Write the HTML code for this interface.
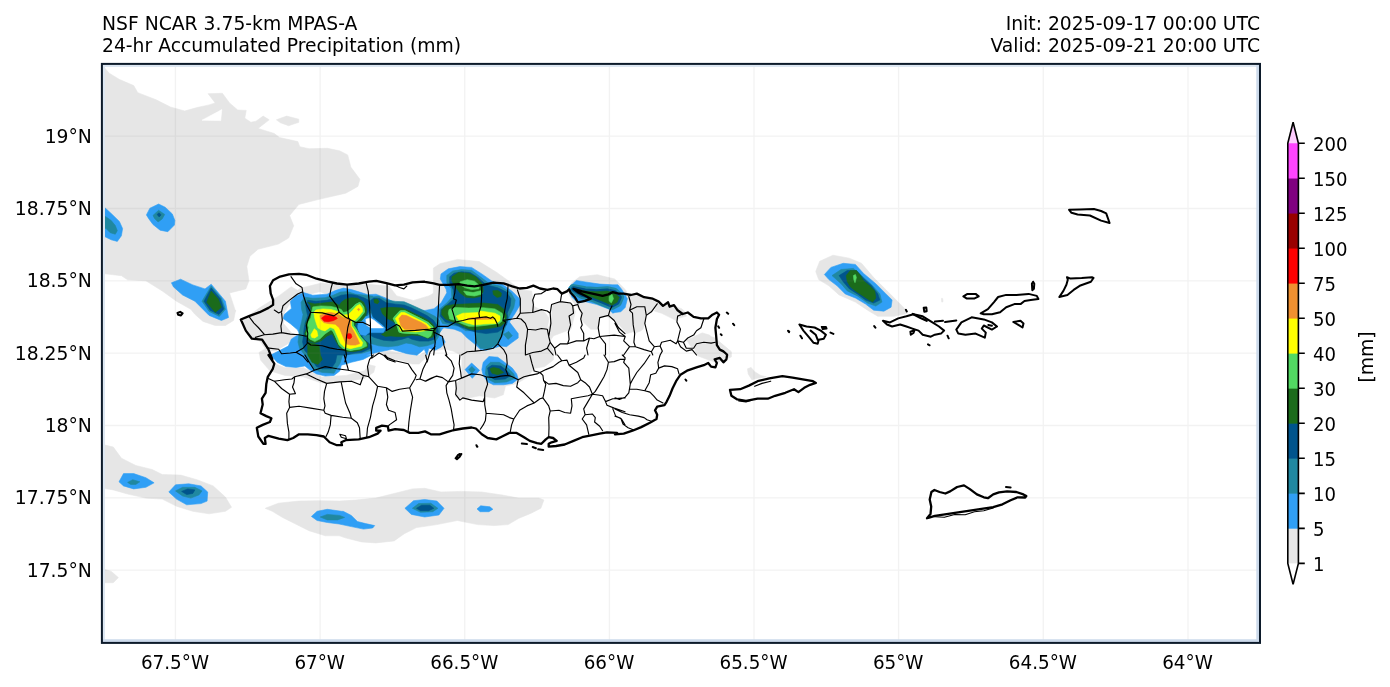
<!DOCTYPE html>
<html><head><meta charset="utf-8"><title>24-hr Accumulated Precipitation</title>
<style>
html,body{margin:0;padding:0;background:#fff;}
body{width:1390px;height:687px;overflow:hidden;font-family:"DejaVu Sans","Liberation Sans",sans-serif;}
svg{display:block}
text{font-family:"DejaVu Sans","Liberation Sans",sans-serif;fill:#000}
.t{font-size:18.75px}
.l{font-size:18.75px}
</style></head><body>
<svg width="1390" height="687" viewBox="0 0 1390 687">
<rect width="1390" height="687" fill="#fff"/>
<defs><clipPath id="ax"><rect x="101.9" y="63.9" width="1158.1" height="579.0"/></clipPath></defs>
<g clip-path="url(#ax)" id="map">
<path d="M90.9 63.2 103.2 66.2 109.3 73.3 119.5 79.5 133.7 85.6 137.8 92.7 156.1 99.8 170.4 107.0 184.7 111.0 196.9 107.6 209.1 104.9 215.2 102.9 208.1 93.7 222.4 93.3 229.5 102.9 237.7 110.0 246.2 110.4 244.8 118.2 250.9 122.3 256.0 121.2 263.1 116.1 269.2 119.8 258.0 128.4 274.3 133.5 279.4 137.5 297.8 141.6 299.8 146.7 309.0 148.7 327.3 148.3 339.5 150.8 347.7 154.9 350.8 167.1 359.9 179.3 357.9 186.4 345.7 193.2 319.2 199.3 298.8 204.4 289.6 215.6 293.7 225.8 288.6 238.0 278.4 244.1 258.0 249.2 249.9 256.3 246.8 266.5 248.9 280.8 245.8 288.9 229.5 293.0 235.6 311.4 235.6 310.2 233.6 320.4 225.4 325.5 215.2 325.5 203.0 321.4 194.9 314.3 190.8 309.3 176.5 301.2 162.3 291.0 145.9 280.8 127.6 279.8 121.5 275.7 103.2 273.6 90.9 273.6ZM276.4 119.8 286.6 116.1 298.8 119.2 298.8 122.3 288.6 125.7 280.4 122.7ZM815.7 271.5 819.7 261.3 833.0 255.2 849.3 258.2 861.5 263.3 873.7 277.6 886.0 289.8 896.2 300.0 904.3 308.2 907.4 313.3 894.1 316.3 877.8 316.3 867.6 310.2 855.4 302.1 839.1 294.9 828.9 285.8 818.7 279.6ZM941.4 298.4 942.6 298.4 943.0 301.7 941.8 302.1ZM90.9 443.1 101.1 444.1 113.3 447.1 121.5 458.3 135.8 465.5 152.1 469.5 162.3 474.6 180.6 475.1 196.9 479.7 213.2 485.9 225.4 497.1 231.5 507.3 225.4 511.3 209.1 513.8 192.8 511.3 176.5 506.2 162.3 499.1 145.9 498.1 127.6 494.0 113.3 489.9 101.1 487.9 90.9 487.9ZM265.2 508.3 278.4 503.2 298.8 501.1 319.2 500.7 339.5 501.1 355.4 500.1 375.8 498.1 396.1 493.0 412.4 488.9 424.7 488.3 441.0 492.0 461.4 491.4 481.7 492.0 502.1 495.0 518.4 498.1 538.8 498.1 543.9 500.1 540.8 508.3 530.6 513.4 518.4 518.5 508.2 524.6 494.0 525.6 477.7 524.6 457.3 520.5 436.9 524.6 416.5 527.6 404.3 533.7 394.1 540.9 375.8 542.9 361.5 541.9 345.2 537.8 339.5 535.8 325.3 535.8 309.0 530.7 294.7 523.6 282.5 517.4 272.3 511.3ZM90.9 567.4 101.1 568.4 111.3 571.4 118.4 577.6 113.3 582.7 90.9 582.7ZM241.6 320.9 259.1 308.1 271.3 300.5 278.9 295.9 291.2 286.7 301.9 292.8 291.2 302.0 285.0 311.2 283.5 323.4 291.2 332.6 300.3 338.7 291.2 341.7 275.9 350.9 266.7 350.9 260.6 341.7 251.4 337.2ZM259.1 352.4 266.7 347.9 272.8 363.1 285.0 367.7 303.4 367.7 321.7 376.9 346.2 375.4 364.6 370.8 369.1 364.7 375.3 366.2 373.7 372.3 364.6 378.4 346.2 381.5 321.7 383.0 303.4 376.9 285.0 375.4 269.8 370.8 260.6 360.1ZM285.0 300.5 300.3 288.2 321.7 283.0 349.3 286.1 367.6 284.3 389.0 286.1 396.7 295.9 413.5 300.5 428.8 295.9 441.0 289.1 444.1 311.2 428.8 312.7 410.4 306.6 389.0 302.6 367.6 295.9 349.3 291.3 330.9 289.1 309.5 294.3 295.7 303.5ZM368.3 355.3 378.5 353.1 384.3 353.9 390.1 358.2 401.8 360.4 412.0 364.0 419.2 364.0 425.1 358.2 430.0 355.3 430.0 349.5 419.2 355.3 404.7 353.9 390.1 350.9 375.6 350.9ZM319.7 289.5 323.7 286.5 330.9 283.9 331.9 287.5 342.1 287.0 348.2 285.6 366.5 285.4 372.7 292.6 362.5 292.6 348.2 290.0 331.9 292.6 327.8 294.6 321.7 292.6ZM433.4 268.1 440.0 263.7 457.5 259.4 479.3 261.6 496.8 272.5 512.1 283.4 520.8 289.9 531.7 291.0 532.8 298.7 533.9 306.3 544.8 312.2 549.2 318.3 547.0 329.2 549.2 342.3 553.5 351.1 553.5 359.8 544.8 366.4 533.9 368.5 527.3 377.3 516.4 383.8 505.5 386.0 503.3 394.7 494.6 398.0 479.3 395.8 464.0 399.1 455.3 396.9 456.4 383.8 461.8 377.3 461.8 355.4 453.1 351.1 444.4 348.9 433.4 351.1ZM552.4 304.8 562.3 301.9 572.1 303.5 575.4 311.8 573.2 320.5 571.0 329.2 562.3 332.5 553.5 335.8 549.2 342.3 548.1 329.2 551.4 318.3ZM571.0 283.4 579.7 276.8 597.2 274.7 614.7 279.0 625.6 289.9 630.0 298.7 634.3 307.4 632.1 320.5 633.2 331.4 625.6 330.3 614.7 320.5 605.9 316.1 599.4 318.3 598.3 329.2 590.7 329.2 581.9 320.5 579.7 309.6 573.2 301.9 568.8 294.3ZM631.0 308.5 643.1 306.3 645.2 318.3 643.1 329.2 634.3 331.4ZM656.2 305.2 669.3 304.1 680.2 309.6 686.7 316.1 678.0 318.3 667.1 311.8ZM686.7 340.2 702.0 333.6 715.1 338.0 730.4 351.1 721.7 357.6 710.7 353.3 699.8 351.1 691.1 346.7ZM747.5 368.8 751.1 367.4 754.7 371.7 760.6 375.4 766.4 376.8 757.6 378.3 751.8 379.7 748.2 373.9ZM628.8 296.5 636.8 295.0 651.4 298.7 657.2 303.0 651.4 311.8 646.3 315.4 644.1 308.9 635.4 307.4 629.6 308.9ZM629.6 310.3 644.1 307.4 645.6 316.1 644.1 324.9 641.2 330.7 633.9 333.6 632.5 322.0ZM615.0 314.7 623.7 313.2 629.6 310.3 633.2 324.9 632.5 332.1 626.6 333.6 619.4 324.9 615.0 323.4ZM657.9 303.8 663.0 306.7 673.2 305.9 682.0 308.9 686.3 313.2 680.5 316.1 676.1 320.5 670.3 317.6 661.6 313.2 654.3 311.0ZM694.3 336.5 702.3 332.9 709.6 335.1 715.4 342.3 724.2 346.0 731.4 351.8 731.4 356.9 716.9 362.7 708.2 359.8 696.5 355.4 693.6 345.2Z" fill="#e6e6e6" stroke="#e6e6e6" stroke-width="0.6" stroke-linejoin="round"/>
<path d="M202.0 120.2 217.3 112.1 221.8 109.6 220.7 120.6Z" fill="#ffffff" stroke="#ffffff" stroke-width="0.6" stroke-linejoin="round"/>
<path d="M103.1 206.2 106.1 208.8 112.2 214.4 119.4 221.5 122.6 228.6 121.4 235.8 117.3 241.4 111.2 239.8 106.1 237.3 103.1 235.8ZM146.4 214.9 149.9 208.2 158.6 204.0 165.2 207.2 172.3 213.9 174.9 220.5 174.4 225.1 167.8 231.7 160.1 230.2 153.0 224.5 148.9 218.9ZM171.4 282.8 180.6 279.2 192.8 284.9 205.0 288.9 211.2 284.2 225.4 301.2 228.5 317.5 221.4 320.5 209.1 315.4 194.9 301.2 182.6 295.0 173.5 286.9ZM303.6 292.6 312.8 295.2 327.1 294.2 335.2 290.6 343.4 288.1 351.5 289.6 359.7 292.1 367.8 294.7 376.0 294.2 386.2 298.2 394.3 302.3 402.4 302.3 410.6 305.4 417.7 309.5 424.8 310.5 433.0 308.9 441.1 311.5 443.2 325.8 441.1 330.9 438.1 333.9 443.2 338.0 445.2 342.1 441.1 347.2 435.0 350.2 428.9 348.2 426.9 355.0 424.2 349.3 417.0 355.2 406.8 353.7 392.2 349.3 377.6 352.2 366.0 355.2 371.8 355.0 363.1 359.4 351.4 362.3 341.3 365.2 339.8 371.0 334.0 375.4 325.2 376.1 316.5 373.9 309.2 369.6 304.9 365.9 296.1 367.4 285.9 366.6 277.2 362.3 270.7 355.0 276.1 352.3 288.3 346.1 291.4 339.0 299.5 333.9 297.5 329.8 290.4 323.7 283.2 318.6 284.3 314.5 291.4 308.4 290.4 301.3 295.5 296.2ZM441.0 273.9 448.3 268.8 459.9 266.6 471.6 267.4 481.8 273.9 492.0 281.2 502.1 284.1 512.3 291.4 519.6 298.7 520.3 304.5 515.2 313.2 509.4 322.0 518.2 333.6 518.2 338.0 512.3 342.3 506.5 346.7 500.7 346.0 493.4 348.2 486.1 350.3 480.3 349.6 474.5 343.8 467.2 338.0 461.4 332.1 454.1 329.2 443.9 327.8 436.6 333.6 425.0 336.5 425.0 313.2 433.7 308.9 441.0 303.0 446.8 292.8 446.1 289.2 440.3 279.0ZM568.4 287.8 576.4 280.5 585.1 281.9 599.7 284.1 612.8 284.8 617.9 284.8 621.6 289.2 627.4 298.7 625.2 307.4 620.8 311.8 615.0 312.5 612.8 313.2 608.4 308.9 596.8 304.5 585.1 301.6 577.8 303.0 572.0 297.2ZM483.2 362.3 489.0 356.5 497.8 357.2 506.5 363.7 512.3 368.1 516.7 373.9 518.2 379.0 512.3 383.4 503.6 384.8 493.4 384.8 487.6 381.9 483.2 375.4 481.8 369.6ZM465.0 369.6 471.6 363.0 479.6 370.3 472.3 378.3ZM824.4 274.5 830.9 267.4 843.2 263.3 855.4 264.4 863.6 273.5 875.8 283.7 886.0 293.9 892.1 300.0 891.1 307.2 883.9 311.2 873.7 310.2 865.6 304.1 855.4 298.0 845.2 293.9 837.1 285.8 828.9 279.6ZM119.0 481.8 123.5 473.6 133.7 473.6 145.9 477.7 154.1 482.8 145.9 487.3 133.7 488.9 123.5 485.9ZM168.8 492.0 175.5 484.8 188.7 483.8 201.0 485.9 207.7 492.0 207.1 501.1 201.0 503.6 186.7 504.8 176.5 499.1ZM311.4 516.4 317.1 511.3 327.3 509.3 341.6 511.3 343.2 511.3 351.3 515.4 357.4 521.5 365.6 523.6 374.7 525.6 372.7 528.0 363.5 529.1 351.3 526.6 339.1 524.0 327.3 522.5 317.1 520.5ZM404.9 508.3 413.5 500.7 424.7 499.5 436.9 501.1 444.0 508.3 438.9 515.0 424.7 517.0 411.4 514.4ZM477.0 508.9 480.7 505.8 489.9 506.8 492.9 509.3 488.9 511.7 480.1 511.7Z" fill="#309ff5" stroke="#309ff5" stroke-width="0.6" stroke-linejoin="round"/>
<path d="M103.1 215.4 106.1 216.9 111.2 220.5 115.3 225.6 117.3 230.7 115.3 234.2 110.2 232.7 106.1 228.6 103.1 227.6ZM153.0 215.4 158.6 210.3 164.7 214.4 162.2 218.9 158.1 222.0 154.5 218.4ZM211.2 285.9 202.0 301.2 209.1 311.4 219.3 316.4 225.4 309.3 221.4 298.1ZM304.6 297.2 312.8 298.2 325.0 297.7 333.2 295.2 340.3 292.1 347.4 291.6 355.6 294.2 365.8 295.2 372.9 296.2 372.9 310.5 367.8 315.6 361.7 321.7 358.6 327.8 361.7 335.9 367.8 342.1 371.9 346.1 371.9 350.2 361.7 353.3 351.5 354.3 345.4 355.0 342.7 355.0 339.8 363.7 336.9 368.1 334.0 373.2 322.3 372.5 314.3 369.6 304.9 355.0 304.6 355.0 299.5 348.2 298.0 342.1 299.0 333.9 300.1 327.8 301.6 321.7 303.1 314.5 301.6 309.5 301.1 302.3ZM368.2 297.6 378.7 296.2 386.2 299.9 395.7 301.4 404.2 301.8 411.8 305.1 420.3 308.9 427.9 312.7 435.4 316.5 439.2 320.3 440.2 331.6 438.3 337.3 434.5 343.0 426.9 345.8 419.4 346.8 411.8 343.9 406.1 343.0 397.6 345.8 388.1 346.8 378.7 345.8 369.2 343.0 360.7 343.0 360.7 334.5 383.4 333.1 386.2 327.9 373.9 318.4 369.2 308.9ZM446.8 275.4 452.7 271.0 461.4 269.6 471.6 270.3 480.3 276.8 489.0 283.4 500.7 286.3 510.9 292.8 515.2 300.1 513.8 307.4 509.4 316.1 506.5 323.4 504.3 330.7 502.1 336.5 497.8 343.8 489.0 348.9 480.3 348.2 475.9 342.3 475.2 330.7 465.8 330.7 458.5 326.3 451.2 324.9 442.5 323.4 438.8 316.1 439.6 308.9 446.8 303.0 451.9 297.2 451.2 288.5 446.8 282.7ZM503.6 334.3 508.7 331.4 512.3 335.8 508.0 339.4ZM486.1 366.6 490.5 362.3 499.2 362.3 506.5 366.6 513.8 373.9 515.2 378.3 506.5 381.9 494.9 382.7 489.0 379.7 485.4 373.9ZM468.7 369.6 471.9 366.4 475.2 369.8 471.9 373.2ZM832.0 275.6 841.1 269.5 853.4 268.4 861.5 275.6 871.7 284.7 879.9 293.9 881.9 302.1 875.8 306.1 867.6 303.1 857.4 295.9 847.3 290.9 841.1 283.7ZM127.6 482.4 132.7 479.7 139.8 481.8 135.8 484.4 130.7 484.4ZM175.5 490.9 182.6 487.3 194.9 487.3 202.0 490.9 198.9 495.0 190.8 498.1 182.6 496.0ZM320.2 517.0 327.3 514.4 339.5 515.4 344.6 517.4 337.5 519.9 327.3 519.9ZM412.4 508.3 418.6 503.6 430.8 503.2 437.9 508.3 432.8 511.7 420.6 512.3Z" fill="#2088a0" stroke="#2088a0" stroke-width="0.6" stroke-linejoin="round"/>
<path d="M573.5 288.8 585.1 291.0 596.8 291.7 607.0 291.0 614.2 292.4 619.3 297.2 617.1 302.3 612.0 305.2 602.6 301.3 592.4 297.2 582.2 294.3Z" fill="none" stroke="#2088a0" stroke-width="9.5" stroke-linejoin="round"/>
<path d="M157.1 214.4 159.1 212.8 161.1 214.9 159.1 216.9ZM211.2 287.9 204.0 301.2 210.1 310.3 218.9 314.4 223.8 308.9 220.3 298.7ZM307.7 300.3 315.9 301.3 327.1 300.3 335.2 297.7 341.3 295.2 349.5 294.2 356.6 295.2 363.7 297.7 368.8 300.3 370.9 305.4 368.8 311.5 364.8 318.6 359.7 322.7 356.6 325.8 359.7 332.9 364.8 340.0 369.9 344.1 370.9 348.2 361.7 352.3 353.6 353.3 345.4 355.0 336.9 355.0 335.4 362.3 331.1 368.8 322.3 368.8 316.5 366.6 310.7 357.9 308.7 355.0 304.6 350.2 302.6 342.1 303.6 334.9 304.1 328.8 305.2 322.7 307.7 315.6 306.7 311.5 305.7 305.4ZM370.6 300.4 373.9 298.0 379.6 298.5 386.2 302.8 395.7 304.2 404.2 305.1 411.8 308.0 419.4 311.8 426.9 315.6 433.5 320.3 437.3 326.0 438.3 331.6 437.3 334.5 434.5 339.2 428.8 341.1 419.4 341.1 411.8 339.2 408.0 337.3 402.3 339.2 392.9 341.1 383.4 340.2 373.9 337.3 369.2 334.5 360.7 335.4 360.7 331.6 383.4 331.6 385.3 327.9 382.4 326.0 373.9 319.3 372.0 313.7 370.1 307.0ZM449.7 276.8 454.1 273.2 461.4 271.7 470.1 272.5 478.1 277.6 486.1 284.8 497.8 287.8 506.5 292.1 510.9 298.7 510.2 305.9 507.2 313.2 508.0 319.0 506.5 324.9 502.1 329.2 497.8 332.1 486.1 333.6 475.9 332.1 468.7 330.0 461.4 327.1 454.1 324.1 445.4 322.0 440.3 316.1 441.0 309.6 448.3 303.8 454.1 298.7 453.4 289.9 449.7 282.7ZM487.6 368.1 492.0 365.2 500.7 365.9 506.5 370.3 510.9 375.4 505.1 379.0 494.9 379.7 489.0 376.1ZM839.1 275.6 847.3 270.5 856.4 270.5 863.6 278.6 871.7 285.8 877.8 293.9 879.9 300.0 873.7 303.1 865.6 300.0 857.4 293.9 849.3 288.8 843.2 281.7ZM181.6 491.4 187.7 488.9 194.9 489.9 192.8 493.4 186.7 494.6ZM416.5 508.3 421.6 505.2 429.8 505.2 433.8 508.3 428.7 510.7 420.6 510.7Z" fill="#00548c" stroke="#00548c" stroke-width="0.6" stroke-linejoin="round"/>
<path d="M573.5 288.8 585.1 291.0 596.8 291.7 607.0 291.0 614.2 292.4 619.3 297.2 617.1 302.3 612.0 305.2 602.6 301.3 592.4 297.2 582.2 294.3Z" fill="none" stroke="#00548c" stroke-width="5" stroke-linejoin="round"/>
<path d="M358.8 318.4 362.6 315.6 367.3 316.5 373.9 318.4 383.4 326.0 385.3 328.8 383.4 332.6 369.2 332.6 365.4 335.4 359.7 334.5 357.8 327.9Z" fill="#309ff5" stroke="#309ff5" stroke-width="0.6" stroke-linejoin="round"/>
<path d="M365.9 319.3 370.1 317.9 373.9 320.3 382.4 326.9 383.4 327.9 371.1 327.9 366.4 325.0Z" fill="#ffffff" stroke="#ffffff" stroke-width="0.6" stroke-linejoin="round"/>
<path d="M211.2 291.0 206.7 302.2 215.2 312.4 221.4 307.3 218.3 299.1ZM310.8 305.4 307.7 302.3 314.8 303.9 325.0 302.8 333.2 301.8 339.3 305.4 341.3 302.3 345.4 299.3 351.5 297.7 357.6 298.2 363.7 302.3 366.8 309.5 365.8 315.6 361.7 320.7 356.6 322.2 354.6 325.8 357.6 330.9 362.7 339.0 367.8 343.1 367.8 347.2 361.7 350.2 353.6 351.7 345.4 351.2 339.3 347.2 335.2 340.0 332.2 333.9 327.1 335.9 320.9 341.0 314.8 343.1 308.7 341.0 304.6 333.9 306.7 327.8 305.7 323.7 308.7 317.6 310.8 311.5ZM307.7 342.1 318.9 345.1 320.4 355.0 322.3 359.4 318.0 364.5 312.1 362.3 307.8 355.0ZM380.6 308.5 386.2 307.5 394.7 307.5 402.3 308.0 408.0 310.3 415.6 314.1 423.1 317.4 429.8 321.2 433.5 325.0 435.9 328.8 435.4 332.6 432.6 337.3 427.9 338.3 421.2 335.9 411.8 335.0 404.2 336.6 396.6 336.6 391.0 335.9 385.3 336.4 381.5 334.5 386.2 331.6 392.9 327.9 396.6 325.0 392.9 321.2 387.2 318.4 382.4 313.7ZM373.9 299.5 377.2 299.0 379.1 301.4 377.7 303.7 374.4 302.8ZM451.9 276.8 458.5 272.5 468.7 273.2 475.9 276.8 482.5 284.1 483.2 291.4 480.3 296.5 473.0 297.9 465.8 297.2 459.9 292.8 455.6 287.0 451.9 281.2ZM492.8 290.8 497.8 290.5 501.4 293.1 501.0 296.5 497.1 297.4 493.4 294.6ZM441.7 310.3 445.4 305.9 454.1 304.5 468.7 303.8 483.2 303.0 497.8 304.5 503.6 308.9 506.5 316.1 505.8 322.0 500.7 326.3 493.4 327.8 483.2 329.2 473.0 330.0 465.8 327.8 458.5 323.4 452.7 322.0 445.4 319.0 441.7 314.7ZM489.8 368.8 493.4 367.4 499.2 368.8 503.6 372.5 497.8 374.7 492.0 373.2ZM846.2 275.6 850.3 270.5 856.4 270.5 860.5 275.6 863.6 280.7 869.7 285.8 874.8 290.9 875.8 298.0 872.7 302.1 867.6 299.0 861.5 294.9 855.4 290.9 850.3 286.8 847.3 281.7Z" fill="#1b6b1b" stroke="#1b6b1b" stroke-width="0.6" stroke-linejoin="round"/>
<path d="M573.5 288.8 585.1 291.0 596.8 291.7 607.0 291.0 614.2 292.4 619.3 297.2 617.1 302.3 612.0 305.2 602.6 301.3 592.4 297.2 582.2 294.3Z" fill="#1b6b1b" stroke="#1b6b1b" stroke-width="0.6" stroke-linejoin="round"/>
<path d="M311.8 311.5 312.8 306.9 320.9 305.9 331.1 306.4 337.3 307.9 341.3 309.5 343.4 312.5 347.4 311.5 351.5 308.4 356.6 303.9 359.7 302.3 363.2 306.9 364.3 311.5 359.7 317.6 355.6 321.2 352.5 320.7 353.6 325.8 356.6 329.8 360.7 337.0 365.8 342.1 366.8 346.1 359.7 349.2 351.5 350.2 344.4 349.2 339.3 345.1 336.2 338.0 333.2 331.9 331.1 329.8 325.0 333.9 319.9 339.0 314.8 341.6 309.7 339.0 306.2 333.9 308.7 327.8 307.2 323.7 310.8 317.6ZM393.2 318.6 400.4 311.0 405.0 311.0 412.6 314.5 420.8 318.6 428.9 323.2 433.0 326.8 433.0 329.8 430.9 335.9 427.9 338.0 422.8 335.9 417.7 333.9 410.6 333.4 401.4 332.9 399.4 328.8 396.3 323.7ZM459.9 281.9 467.2 279.7 474.5 281.2 479.6 285.6 478.9 288.8 471.6 289.6 465.0 287.8 460.7 284.8ZM463.6 291.1 473.0 292.6 481.0 290.7 482.1 294.0 474.5 296.0 466.5 295.0ZM449.0 309.6 454.1 307.4 468.7 308.1 483.2 307.7 494.9 308.9 502.1 313.2 504.3 319.0 499.2 323.4 489.0 324.9 477.4 326.3 468.7 326.3 461.4 323.4 455.6 320.5 449.7 319.0 448.3 313.2ZM609.1 296.5 612.0 294.3 613.5 298.7 611.3 303.0 609.1 300.9ZM853.4 275.6 855.4 274.5 856.4 277.6 855.0 282.7 853.8 279.6Z" fill="#52d962" stroke="#52d962" stroke-width="0.6" stroke-linejoin="round"/>
<path d="M313.8 312.5 315.9 310.0 323.0 308.9 331.1 309.5 336.2 311.0 340.3 313.0 343.4 315.1 348.5 314.5 352.5 310.5 356.6 305.9 359.7 304.4 362.2 307.9 362.7 311.5 358.6 316.6 355.1 320.2 351.5 319.6 351.5 325.8 354.6 329.8 358.6 337.0 362.7 342.6 361.7 346.1 356.6 347.2 350.5 348.7 344.4 347.2 340.3 343.1 337.3 335.9 334.2 328.8 330.1 327.3 325.0 330.9 320.9 329.8 317.9 327.8 316.4 323.7 314.8 318.6ZM310.8 334.9 314.3 328.8 316.9 330.9 317.9 335.9 314.8 338.0 311.8 337.5ZM395.3 318.6 400.9 312.5 404.5 312.5 410.6 315.6 418.7 319.6 426.9 323.7 430.9 327.8 429.9 329.8 423.8 330.9 415.7 331.9 406.5 331.4 400.4 330.9 398.9 325.8Z" fill="none" stroke="#52d962" stroke-width="4.4" stroke-linejoin="round"/>
<path d="M313.8 312.5 315.9 310.0 323.0 308.9 331.1 309.5 336.2 311.0 340.3 313.0 343.4 315.1 348.5 314.5 352.5 310.5 356.6 305.9 359.7 304.4 362.2 307.9 362.7 311.5 358.6 316.6 355.1 320.2 351.5 319.6 351.5 325.8 354.6 329.8 358.6 337.0 362.7 342.6 361.7 346.1 356.6 347.2 350.5 348.7 344.4 347.2 340.3 343.1 337.3 335.9 334.2 328.8 330.1 327.3 325.0 330.9 320.9 329.8 317.9 327.8 316.4 323.7 314.8 318.6ZM310.8 334.9 314.3 328.8 316.9 330.9 317.9 335.9 314.8 338.0 311.8 337.5ZM395.3 318.6 400.9 312.5 404.5 312.5 410.6 315.6 418.7 319.6 426.9 323.7 430.9 327.8 429.9 329.8 423.8 330.9 415.7 331.9 406.5 331.4 400.4 330.9 398.9 325.8Z" fill="#ffff00" stroke="#ffff00" stroke-width="0.6" stroke-linejoin="round"/>
<path d="M456.3 316.1 462.8 313.2 478.9 312.5 480.3 311.0 494.9 313.2 500.0 316.1 500.0 320.5 496.3 323.4 483.2 324.1 474.5 324.9 465.8 322.7 458.5 319.8Z" fill="#ffff00" stroke="#ffff00" stroke-width="0.6" stroke-linejoin="round"/>
<path d="M319.9 315.6 325.0 313.0 331.1 312.5 337.3 314.0 340.3 315.6 343.4 317.6 347.4 318.6 350.5 319.6 350.5 325.8 353.6 330.9 357.6 339.0 359.7 343.6 355.6 345.1 350.5 345.1 346.4 344.1 344.4 340.0 342.3 334.9 339.3 327.8 335.2 324.2 329.1 323.7 324.0 322.7 320.9 319.6ZM357.4 309.5 358.6 308.2 359.9 309.5 358.6 310.7ZM398.9 318.6 401.9 315.1 406.5 315.6 413.6 319.1 420.8 322.2 425.9 325.2 427.9 327.8 423.8 329.3 417.7 330.3 410.6 329.8 404.5 329.3 400.9 325.8ZM467.2 318.6 473.0 317.6 486.1 317.3 493.4 319.0 486.1 319.3 474.5 319.5Z" fill="#f09030" stroke="#f09030" stroke-width="0.6" stroke-linejoin="round"/>
<path d="M321.5 318.1 325.0 315.6 331.1 315.6 336.2 317.1 337.3 318.6 333.2 320.7 328.1 321.7 324.0 321.2ZM346.4 334.9 348.5 333.4 351.0 333.9 352.0 337.0 350.0 339.0 346.9 338.0Z" fill="#ff0000" stroke="#ff0000" stroke-width="0.6" stroke-linejoin="round"/>
<path d="M175.4 63.9V642.9M320.1 63.9V642.9M464.7 63.9V642.9M609.4 63.9V642.9M754.0 63.9V642.9M898.6 63.9V642.9M1043.3 63.9V642.9M1188.0 63.9V642.9M101.9 136.1H1260.0M101.9 208.5H1260.0M101.9 280.8H1260.0M101.9 353.1H1260.0M101.9 425.5H1260.0M101.9 497.8H1260.0M101.9 570.1H1260.0" stroke="#808080" stroke-opacity="0.105" stroke-width="1.3" fill="none"/>
<path d="M339.8 434.3 345.6 435.8 346.4 438.7 341.3 437.2ZM754.7 386.3 762.0 383.4 770.7 381.2M738.7 400.9 746.0 401.9 751.8 400.1M934.9 516.7 944.3 517.3 954.7 514.5 965.2 514.7 974.5 511.8 983.8 510.7 993.2 508.0M291.0 276.6 296.1 283.8 302.0 287.5 303.4 295.5 306.3 304.2 310.7 312.2 307.8 320.2 306.3 326.0 307.8 333.3 307.1 342.1M274.3 310.0 278.7 312.9 281.6 311.5 283.0 305.7 288.9 300.6 297.6 294.0 302.7 291.8M281.6 312.9 282.3 320.2 280.9 326.0 281.6 332.6 272.8 334.1 264.1 334.8 255.4 337.4M249.6 317.3 253.9 323.1 258.3 327.5 264.1 334.1M281.6 332.6 290.3 334.1 299.0 334.8 306.3 336.2M310.7 312.2 322.3 312.9 334.0 315.9 339.1 312.2 336.9 305.7 329.6 296.2 331.1 288.2 332.5 283.1M347.1 284.6 347.8 298.4 347.8 310.0 348.5 318.0 350.0 319.5 347.8 327.5 346.4 337.7 345.6 349.3 346.4 355.2 344.9 362.0M339.1 312.2 345.6 317.3 350.0 319.5M366.0 282.4 368.2 291.1 369.6 305.7 370.4 323.1 370.4 337.7 371.1 349.3 371.8 358.1M387.1 283.8 387.1 305.7 386.4 330.4M350.0 319.5 355.8 322.4 363.1 322.4 370.4 326.0M386.4 330.4 396.6 324.6 399.5 326.0 402.4 331.1 415.5 330.4 430.1 329.0 435.0 328.2M307.1 342.1 310.7 345.0 322.3 345.7 329.6 347.9 336.9 349.3 345.6 350.1M267.0 347.9 278.7 349.3 281.6 353.7 290.3 353.0 296.1 352.2 303.4 347.9 307.1 343.5M296.1 352.2 303.4 356.6 307.8 362.0M371.8 358.1 379.1 353.0 383.5 355.2 387.8 359.5 395.1 362.0M435.0 346.4 430.1 352.2 427.1 362.0M395.1 285.3 399.5 287.5 403.9 288.9 406.8 286.0M439.6 284.8 438.8 298.7 438.1 313.2 437.4 326.3 433.7 330.7 425.0 330.0M455.6 284.8 454.8 292.8 453.4 298.7 456.3 300.1 454.8 305.9 451.9 308.9 454.1 316.1 455.6 322.0 448.3 326.3 437.4 326.3M481.8 286.3 481.5 298.7 481.0 305.9 478.9 313.2 479.6 317.6M455.6 322.0 462.8 320.5 468.7 319.0 475.2 318.3 479.6 317.6 486.1 316.9 490.5 318.3 492.7 316.9 494.9 319.0 497.1 323.4 497.8 326.3M475.2 318.3 475.2 330.7 475.9 342.3 475.2 351.1M508.0 286.3 507.2 298.7 505.8 304.5 504.3 313.2 502.9 320.5 505.8 322.0 503.6 327.8 501.4 336.5 497.8 343.8 493.4 348.2 483.2 350.3 475.2 351.1 467.2 351.8 461.4 355.0M502.9 320.5 512.3 319.0 516.7 318.3M517.4 289.9 520.3 298.7 520.3 313.2 516.7 318.3 521.1 319.0 525.4 323.4 527.6 329.2 526.9 336.5 525.4 345.2 525.4 355.0M520.3 313.2 532.7 312.5 541.4 309.6 547.3 311.0 550.2 313.2M532.7 312.5 533.4 304.5 532.7 300.1 534.9 294.3 541.4 293.6 545.8 290.7M527.6 329.2 535.6 330.0 541.4 328.5 547.3 329.2 548.7 336.5 550.2 342.3 547.3 348.2 541.4 351.1 532.7 352.5 525.4 355.0M550.2 313.2 551.6 304.5 556.0 303.0 560.4 301.6 561.1 297.2 561.8 293.6M550.2 313.2 550.9 323.4 549.5 332.1 548.7 336.5M560.4 301.6 570.6 303.0 572.7 305.9 573.5 313.2 569.1 316.1 570.6 324.9 568.4 332.1 569.1 339.4 567.6 343.8M550.2 342.3 554.5 348.2 560.4 343.8 567.6 343.8 576.4 340.9 583.7 340.9 589.5 338.0 593.9 338.7M572.7 305.9 577.8 304.5 579.3 308.9 582.2 313.2 580.7 319.0 582.2 324.9 580.7 327.8 583.7 333.6 583.7 340.9M593.9 338.7 599.7 336.5 598.2 327.8 599.7 317.6 608.4 315.4 609.9 310.3 612.0 305.9M608.4 315.4 614.2 320.5 618.6 327.8 625.0 333.6M599.7 336.5 605.5 343.8 605.5 355.0M599.7 336.5 614.2 335.1 625.0 336.5M589.5 338.0 586.6 348.2 588.0 355.0M497.8 343.8 503.6 349.6 506.5 355.0M554.5 348.2 556.0 355.0M547.3 348.2 553.1 355.0M433.7 330.7 435.2 342.3 433.7 355.0M433.7 332.1 442.5 336.5 443.9 345.2 446.8 355.0M267.8 378.3 274.3 381.2 284.5 379.7 291.8 379.0 294.7 376.8 306.3 373.9 314.3 370.3 325.2 366.6 336.9 368.8 348.5 370.3 358.7 372.5 363.1 375.4 368.9 376.8M274.3 381.2 281.6 388.5 289.6 394.3 295.4 393.6 292.5 387.0 294.0 382.7 294.7 376.8M289.6 394.3 288.9 401.6 289.6 407.4 286.7 413.2 287.4 423.4 288.9 432.1 288.9 438.7M289.6 407.4 299.0 406.2 310.7 408.1 323.8 410.3 325.2 413.2 331.1 415.4 342.7 417.3 351.4 418.3M306.3 373.9 316.5 379.0 326.7 383.4 324.5 391.4 323.8 398.7 325.0 405.9 323.8 410.3M326.7 383.4 339.8 381.9 351.4 381.2 360.2 384.8 363.1 376.8M341.3 382.7 343.4 392.8 345.6 403.0 350.0 413.2 351.4 418.3 357.3 422.7 359.5 427.8 360.2 438.7M331.1 415.4 330.3 424.9 328.2 432.1 326.0 436.5M368.9 376.8 377.6 386.3 375.5 395.8 372.6 405.9 370.4 417.6 367.5 427.8 366.7 437.2M377.6 386.3 386.4 387.8 392.2 391.4 399.5 389.2 409.7 387.8 414.8 379.0 416.2 375.4 411.9 369.6 408.2 363.7 395.1 360.8 387.8 357.9 384.9 355.0M368.9 376.8 367.5 366.6 369.6 359.4 373.3 355.0M386.4 387.8 387.8 397.2 386.4 404.5 388.6 410.3 395.1 412.5 396.6 419.8 389.3 424.9 387.8 427.1M409.7 387.8 412.6 397.2 410.4 410.3 408.9 422.0 408.2 430.7M416.2 379.7 419.9 379.0 425.7 381.2 435.0 376.8M419.9 379.0 422.8 369.6 427.1 360.8 425.7 355.0M304.9 355.0 309.2 362.3 314.3 370.3M344.2 355.0 348.5 370.3M425.0 381.2 430.8 378.3 436.6 376.1 442.5 377.6 448.3 381.9 455.6 380.5 462.8 377.6 471.6 373.9 480.3 374.7 486.1 376.8 493.4 377.6 500.7 376.1 508.0 375.4 512.3 376.8 518.2 379.7 524.0 376.8 529.8 375.4 537.1 373.9 540.0 372.5 542.9 375.4 543.6 380.5 548.7 384.1 556.0 383.4 563.3 385.6 570.6 386.3 577.8 382.7 580.7 379.7M448.3 381.9 446.1 385.6 446.8 392.8 449.0 400.1 451.2 408.9 452.7 417.6 454.1 424.9 453.4 430.7M455.6 380.5 456.3 388.5 455.6 394.3 459.9 400.1 462.8 397.9 471.6 400.1 483.2 401.6 484.7 397.2M486.1 376.8 487.6 384.1 484.7 392.8 484.7 404.5 486.1 413.2 485.4 420.5 483.2 424.9 480.3 429.2M486.1 413.2 494.9 414.0 503.6 414.7 509.4 417.6 513.8 419.0M518.2 379.7 516.7 387.0 524.0 392.8 529.8 398.7 534.2 403.0 526.9 405.9 519.6 410.3 513.8 419.0 511.6 424.9 510.2 432.1M534.2 403.0 540.0 398.7 542.9 397.9 544.4 391.4 545.8 384.1 543.6 380.5M542.9 397.9 548.7 405.9 550.2 411.0 558.9 410.3 564.7 412.5 570.6 413.2 572.0 405.9 571.3 398.7 579.3 397.2 588.0 395.8 592.4 394.3M550.2 411.0 548.7 417.6 549.0 427.8 548.7 437.2M580.7 379.7 585.1 382.7 589.5 387.0 592.4 394.3 598.2 395.0 602.6 395.8 605.5 401.6 612.8 398.7 625.0 397.9M592.4 394.3 588.0 401.6 583.7 408.9 585.1 414.7 582.2 419.0 586.6 424.9 588.8 434.3M585.1 414.7 592.4 414.0 595.3 417.6 594.6 422.0 599.7 426.3 602.6 430.7M605.5 401.6 607.0 405.2 614.2 408.1 625.0 411.8M612.8 408.9 615.7 416.1 621.5 419.0 625.0 424.9M445.4 355.0 451.2 360.8 454.1 368.1 452.7 375.4 448.3 381.9M459.9 355.0 459.2 363.7 460.7 372.5 461.4 378.3M506.5 355.0 507.2 363.7 505.8 369.6 508.0 375.4M529.8 355.0 532.0 363.7 534.2 371.0 540.0 372.5M557.5 355.0 561.8 360.8 566.9 360.1 569.1 365.2 576.4 362.3 583.7 357.9 585.1 355.0M569.1 365.2 577.8 372.5 580.7 379.7M540.0 372.5 545.8 369.6 553.1 366.6 558.9 362.3 561.8 360.8M604.0 355.0 608.4 362.3 607.0 369.6 604.0 376.8 599.7 384.1 595.3 391.4 592.4 394.3M608.4 362.3 614.2 361.6 620.1 359.4 625.0 359.4M622.3 355.0 625.2 357.9 623.7 362.3 628.8 368.1 629.6 376.8 630.3 384.1 628.8 392.8 625.2 397.2 619.4 399.4 615.0 397.9M649.9 355.0 644.1 363.7 636.8 372.5 632.5 379.7 630.3 384.1M660.1 355.0 657.9 362.3 658.7 368.1 655.8 373.2 650.7 374.7 649.2 382.7 644.8 390.7M658.7 368.1 664.5 365.9 671.8 366.6 677.6 368.8 679.0 373.9M630.3 389.2 636.8 389.2 644.8 390.7 649.9 392.1 653.6 395.8 657.2 400.1 663.0 403.0M615.0 408.9 622.3 412.5 629.6 414.7 638.3 416.1 644.1 417.6 647.0 419.8 651.4 421.2M615.0 416.1 620.8 418.3 623.0 424.1 628.1 427.8 633.9 430.0M628.8 296.5 631.0 304.5 629.6 310.3 632.5 313.2 633.2 324.9 634.7 333.6 633.9 342.3 635.4 346.7M629.6 310.3 636.8 306.7 644.8 306.7 646.3 315.4 644.8 323.4 647.0 332.1 649.2 340.9 654.3 346.7M646.3 315.4 651.4 311.8 657.2 303.8M615.0 323.4 619.4 332.1 625.2 336.5 623.7 340.9 629.6 346.7 635.4 346.7 644.1 349.6 651.4 351.8 654.3 346.7 660.1 346.0 661.6 342.3 670.3 340.2 676.1 343.8 677.6 340.9M629.6 346.7 623.7 355.0M651.4 351.8 652.8 355.0M660.1 346.0 662.3 351.1 660.1 355.0M682.7 314.0 677.6 316.1 676.9 322.0 680.5 329.2 679.0 335.1 677.6 340.9 683.4 342.3 687.8 338.0 693.6 335.1 696.5 330.7 700.9 327.8 703.8 319.0M677.6 340.9 680.5 346.7 686.3 351.1 692.1 349.6 696.5 355.0M683.4 342.3 686.3 348.2 693.6 348.2 696.5 343.8 703.8 342.3 711.1 343.1 715.4 342.3" fill="none" stroke="#000" stroke-width="1.15" stroke-linejoin="round" stroke-linecap="round"/>
<path d="M240.8 319.5 249.6 315.9 259.7 312.2 268.5 307.9 273.1 304.9 273.1 299.8 270.7 293.3 269.9 286.0 273.1 280.2 280.1 276.6 288.9 274.4 299.0 273.9 306.3 274.8 316.5 278.7 328.2 281.7 336.9 283.5 347.1 284.6 358.7 283.5 368.9 281.7 376.2 280.9 386.4 283.1 395.1 285.3 403.9 284.6 412.6 282.4 424.2 281.7 425.0 281.9 433.7 283.4 439.6 284.8 448.3 284.8 458.5 284.1 467.2 285.6 474.5 286.3 483.2 284.8 493.4 282.7 503.6 283.4 512.3 286.3 519.6 288.5 526.9 287.8 533.4 285.6 540.0 288.5 547.3 289.9 553.1 288.5 557.5 289.2 561.8 293.6 566.9 291.4 569.1 289.2 570.6 292.8 574.9 297.2 577.8 302.3 585.1 300.9 590.9 298.7 585.1 295.8 577.8 292.1 573.5 288.8 582.2 291.4 592.4 293.6 602.6 295.8 608.4 294.3 612.8 292.1 618.6 293.6 623.7 293.6 631.0 295.0 636.8 293.6 644.1 297.2 652.8 298.7 658.7 301.6 663.0 305.9 668.1 302.3 669.6 306.7 674.0 305.2 677.6 310.3 682.7 314.0 687.8 312.5 693.6 316.9 700.9 318.3 708.2 318.3 712.5 314.7 716.9 312.5 719.1 314.7 716.9 319.0 715.4 327.8 716.2 336.5 716.9 345.2 719.8 349.6 723.4 351.4 726.4 354.0 727.1 355.0 726.4 359.4 723.4 362.3 719.8 357.9 714.7 359.4 716.9 363.0 715.4 367.4 711.1 366.6 708.2 363.0 703.8 365.2 696.5 367.4 687.8 370.3 680.5 374.7 676.1 381.2 672.5 388.5 669.6 395.8 666.7 401.6 664.5 405.2 657.2 406.7 655.0 410.3 657.2 414.7 656.5 419.0 649.9 422.7 641.2 427.1 632.5 430.7 623.7 433.6 615.0 434.3 617.1 432.9 607.0 432.4 599.7 433.6 592.4 435.1 582.2 437.2 573.5 440.9 564.7 444.5 556.0 446.0 548.7 446.7 548.7 443.8 551.6 442.3 556.7 440.9 553.1 438.0 548.7 437.2 545.8 439.4 541.4 443.8 537.1 443.1 529.8 440.9 524.0 437.2 516.7 432.9 509.4 432.9 502.1 436.5 496.3 439.4 487.6 438.0 481.8 434.3 475.9 428.5 471.6 427.5 462.8 428.5 454.1 430.0 446.8 432.1 439.6 434.3 430.8 434.3 425.0 431.4 418.4 432.9 409.7 432.9 403.9 430.0 395.1 429.2 388.6 430.7 387.8 426.3 382.0 425.6 376.2 427.8 376.2 430.7 380.6 430.7 377.6 433.6 368.9 437.2 358.7 439.4 345.6 440.2 341.3 442.3 342.0 445.2 336.9 445.2 329.6 442.3 323.8 436.5 316.5 435.1 307.8 434.3 299.0 434.3 293.2 438.0 287.4 440.2 278.7 438.7 268.5 435.8 264.8 438.0 265.6 443.8 263.4 443.8 258.3 436.5 256.8 427.8 262.7 424.9 269.9 422.0 271.4 418.3 266.3 416.1 260.5 413.2 262.7 404.5 261.9 398.7 265.6 392.8 266.3 384.1 267.8 376.8 272.8 368.8 274.3 363.7 268.5 355.0 272.3 359.1 268.2 348.9 262.1 339.7 251.9 338.7 245.8 330.6ZM730.0 389.9 740.2 389.2 748.9 385.6 757.6 381.2 769.3 378.3 782.4 376.1 792.6 377.6 804.2 379.7 813.0 381.2 815.9 382.9 810.1 384.8 804.2 387.8 798.4 392.1 794.0 389.2 785.3 392.8 775.1 395.8 767.8 398.7 757.6 398.7 746.0 400.9 737.3 399.4 731.4 395.8ZM912.9 313.9 920.6 318.0 926.7 320.8M927.0 518.2 930.5 514.1 931.2 506.6 929.7 499.6 931.4 492.0 934.4 490.0 939.6 492.0 945.4 493.5 950.1 491.4 957.1 487.0 964.0 485.4 969.9 489.1 976.9 494.4 983.8 497.3 987.9 498.2 993.2 494.4 999.0 492.4 1007.1 491.4 1016.4 492.0 1023.4 494.4 1026.3 496.1 1025.2 497.5 1017.6 497.3 1010.6 500.2 1002.5 504.3 993.2 507.2 981.5 508.9 969.9 510.7 958.2 512.4 946.6 514.1 934.9 515.9 929.1 517.6Z" fill="none" stroke="#000" stroke-width="2.3" stroke-linejoin="round" stroke-linecap="round"/>
<path d="M177.5 313.0 180.2 311.8 182.6 313.4 181.0 315.4 178.1 314.8ZM455.6 458.3 458.3 454.7 461.4 453.9 459.7 456.7 456.9 459.2ZM476.6 445.5 477.4 446.7M476.4 445.2 477.0 446.7M459.4 454.1 460.5 454.7M521.8 443.5 526.9 444.1M532.7 447.0 535.9 448.2M538.2 449.3 543.2 449.9M685.5 379.5 686.3 380.6M726.8 312.6 728.2 313.8M733.0 323.7 734.2 325.2M718.2 326.3 719.1 327.8M720.8 334.2 721.7 335.1M788.1 330.7 789.2 331.6M799.4 324.5 806.5 326.5 814.6 327.5 820.8 330.6 825.9 334.7 823.8 338.7 818.7 339.8 817.7 343.8 813.6 342.8 808.5 336.7 803.4 330.6ZM810.6 330.6 815.7 334.7 817.7 339.8M821.8 326.9 825.9 326.9 826.5 328.6 822.8 329.0ZM830.5 332.6 833.4 333.9M800.4 335.7 802.0 338.3M788.2 331.2 789.0 332.2M882.9 320.8 890.0 322.4 898.2 318.4 906.4 316.3 913.5 314.3 922.7 316.3 930.8 321.4 939.0 326.5 944.1 330.6 941.0 333.6 934.9 334.7 930.8 336.7 922.7 334.7 918.6 330.6 912.5 328.6 906.4 326.5 900.2 324.5 892.1 326.5 887.0 324.5ZM874.2 326.1 875.4 327.7M923.7 307.8 926.3 307.4 926.7 311.2 924.3 311.8ZM910.4 331.6 914.5 330.2 913.5 333.0 910.8 334.7ZM928.0 344.4 929.6 345.3M947.5 335.7 948.7 338.3M905.9 309.8 906.8 311.4M934.9 321.4 943.0 320.8M945.1 322.0 956.3 320.4M956.3 329.6 961.4 322.4 971.6 317.3 983.8 319.4 991.9 322.4 997.0 326.5 991.9 329.6 983.8 325.5 981.8 328.6 985.8 332.6 984.8 337.7 975.6 333.6 965.4 334.7 958.3 333.6ZM988.3 324.9 991.9 325.7M963.4 296.4 967.5 293.9 975.6 293.9 978.7 296.4 974.6 298.4 966.5 298.4ZM980.7 313.3 987.9 309.2 994.0 302.1 998.1 297.0 1006.2 294.9 1016.4 294.9 1028.6 293.9 1036.8 295.9 1038.4 299.0 1030.7 300.0 1024.5 301.0 1020.5 304.1 1014.4 304.1 1006.2 307.2 1000.1 312.3 991.9 314.3 983.8 314.3ZM1031.9 283.7 1033.1 281.7 1034.3 283.7 1033.9 288.8 1032.3 290.2ZM1013.3 322.0 1020.5 320.8 1023.5 323.5 1022.5 327.5 1018.4 324.9ZM1069.1 209.8 1079.7 209.4 1093.9 209.0 1101.1 211.0 1106.2 213.4 1109.6 223.0 1101.1 220.6 1089.9 215.5 1077.6 214.5 1071.5 212.8ZM1067.0 277.2 1070.5 278.6 1081.7 278.0 1091.9 277.2 1093.5 278.0 1090.9 281.7 1079.7 285.8 1073.6 289.9 1067.4 295.0 1059.3 297.0 1063.4 290.9 1066.4 284.8 1067.8 279.7ZM1006.0 487.0 1010.6 487.4" fill="none" stroke="#000" stroke-width="2.0" stroke-linejoin="round" stroke-linecap="round"/>
</g>
<path d="M101.9 65.9H1260.0M103.9 63.9V642.9" fill="none" stroke="#dde7f2" stroke-width="2.2"/>
<path d="M101.9 640.6H1260.0M1257.7 63.9V642.9" fill="none" stroke="#ccdaeb" stroke-width="2.8"/>
<rect x="101.9" y="63.9" width="1158.1" height="579.0" fill="none" stroke="#0c1a2a" stroke-width="2"/>
<text class="t" x="102" y="30.2">NSF NCAR 3.75-km MPAS-A</text>
<text class="t" x="102" y="51.7">24-hr Accumulated Precipitation (mm)</text>
<text class="t" x="1260" y="30.2" text-anchor="end">Init: 2025-09-17 00:00 UTC</text>
<text class="t" x="1260" y="51.7" text-anchor="end">Valid: 2025-09-21 20:00 UTC</text>
<text class="l" x="175.0" y="668.6" text-anchor="middle" textLength="68.1" lengthAdjust="spacingAndGlyphs">67.5°W</text>
<text class="l" x="319.7" y="668.6" text-anchor="middle" textLength="50.6" lengthAdjust="spacingAndGlyphs">67°W</text>
<text class="l" x="464.3" y="668.6" text-anchor="middle" textLength="68.1" lengthAdjust="spacingAndGlyphs">66.5°W</text>
<text class="l" x="609.0" y="668.6" text-anchor="middle" textLength="50.6" lengthAdjust="spacingAndGlyphs">66°W</text>
<text class="l" x="753.6" y="668.6" text-anchor="middle" textLength="68.1" lengthAdjust="spacingAndGlyphs">65.5°W</text>
<text class="l" x="898.2" y="668.6" text-anchor="middle" textLength="50.6" lengthAdjust="spacingAndGlyphs">65°W</text>
<text class="l" x="1042.9" y="668.6" text-anchor="middle" textLength="68.1" lengthAdjust="spacingAndGlyphs">64.5°W</text>
<text class="l" x="1187.5" y="668.6" text-anchor="middle" textLength="50.6" lengthAdjust="spacingAndGlyphs">64°W</text>
<text class="l" x="91.9" y="142.5" text-anchor="end">19°N</text>
<text class="l" x="91.9" y="214.9" text-anchor="end">18.75°N</text>
<text class="l" x="91.9" y="287.2" text-anchor="end">18.5°N</text>
<text class="l" x="91.9" y="359.5" text-anchor="end">18.25°N</text>
<text class="l" x="91.9" y="431.9" text-anchor="end">18°N</text>
<text class="l" x="91.9" y="504.2" text-anchor="end">17.75°N</text>
<text class="l" x="91.9" y="576.5" text-anchor="end">17.5°N</text>
<rect x="1287.8" y="528.08" width="10.6" height="35.62" fill="#e6e6e6"/>
<rect x="1287.8" y="493.07" width="10.6" height="35.62" fill="#309ff5"/>
<rect x="1287.8" y="458.05" width="10.6" height="35.62" fill="#2088a0"/>
<rect x="1287.8" y="423.03" width="10.6" height="35.62" fill="#00548c"/>
<rect x="1287.8" y="388.02" width="10.6" height="35.62" fill="#1b6b1b"/>
<rect x="1287.8" y="353.00" width="10.6" height="35.62" fill="#52d962"/>
<rect x="1287.8" y="317.98" width="10.6" height="35.62" fill="#ffff00"/>
<rect x="1287.8" y="282.97" width="10.6" height="35.62" fill="#f09030"/>
<rect x="1287.8" y="247.95" width="10.6" height="35.62" fill="#ff0000"/>
<rect x="1287.8" y="212.93" width="10.6" height="35.62" fill="#990000"/>
<rect x="1287.8" y="177.92" width="10.6" height="35.62" fill="#800080"/>
<rect x="1287.8" y="142.90" width="10.6" height="35.62" fill="#ff44ff"/>
<path d="M1287.8 143.2L1293.1 122.3L1298.4 143.2Z" fill="#ffccff"/>
<path d="M1287.8 563.4L1293.1 584.3L1298.4 563.4Z" fill="#ffffff"/>
<path d="M1287.8 143.2L1293.1 122.3L1298.4 143.2L1298.4 563.4L1293.1 584.3L1287.8 563.4Z" fill="none" stroke="#000" stroke-width="1.6" stroke-linejoin="miter"/>
<text class="l" x="1313" y="571.1" textLength="11.5" lengthAdjust="spacingAndGlyphs">1</text>
<text class="l" x="1313" y="536.1" textLength="11.5" lengthAdjust="spacingAndGlyphs">5</text>
<text class="l" x="1313" y="501.1" textLength="23.0" lengthAdjust="spacingAndGlyphs">10</text>
<text class="l" x="1313" y="466.0" textLength="23.0" lengthAdjust="spacingAndGlyphs">15</text>
<text class="l" x="1313" y="431.0" textLength="23.0" lengthAdjust="spacingAndGlyphs">20</text>
<text class="l" x="1313" y="396.0" textLength="23.0" lengthAdjust="spacingAndGlyphs">30</text>
<text class="l" x="1313" y="361.0" textLength="23.0" lengthAdjust="spacingAndGlyphs">40</text>
<text class="l" x="1313" y="326.0" textLength="23.0" lengthAdjust="spacingAndGlyphs">50</text>
<text class="l" x="1313" y="291.0" textLength="23.0" lengthAdjust="spacingAndGlyphs">75</text>
<text class="l" x="1313" y="255.9" textLength="34.5" lengthAdjust="spacingAndGlyphs">100</text>
<text class="l" x="1313" y="220.9" textLength="34.5" lengthAdjust="spacingAndGlyphs">125</text>
<text class="l" x="1313" y="185.9" textLength="34.5" lengthAdjust="spacingAndGlyphs">150</text>
<text class="l" x="1313" y="150.9" textLength="34.5" lengthAdjust="spacingAndGlyphs">200</text>
<path d="M1298.4 563.4h6.4M1298.4 528.4h6.4M1298.4 493.4h6.4M1298.4 458.3h6.4M1298.4 423.3h6.4M1298.4 388.3h6.4M1298.4 353.3h6.4M1298.4 318.3h6.4M1298.4 283.3h6.4M1298.4 248.2h6.4M1298.4 213.2h6.4M1298.4 178.2h6.4M1298.4 143.2h6.4" stroke="#000" stroke-width="1.6" fill="none"/>
<text class="l" transform="translate(1373,357) rotate(-90)" text-anchor="middle">[mm]</text>
</svg>
</body></html>
